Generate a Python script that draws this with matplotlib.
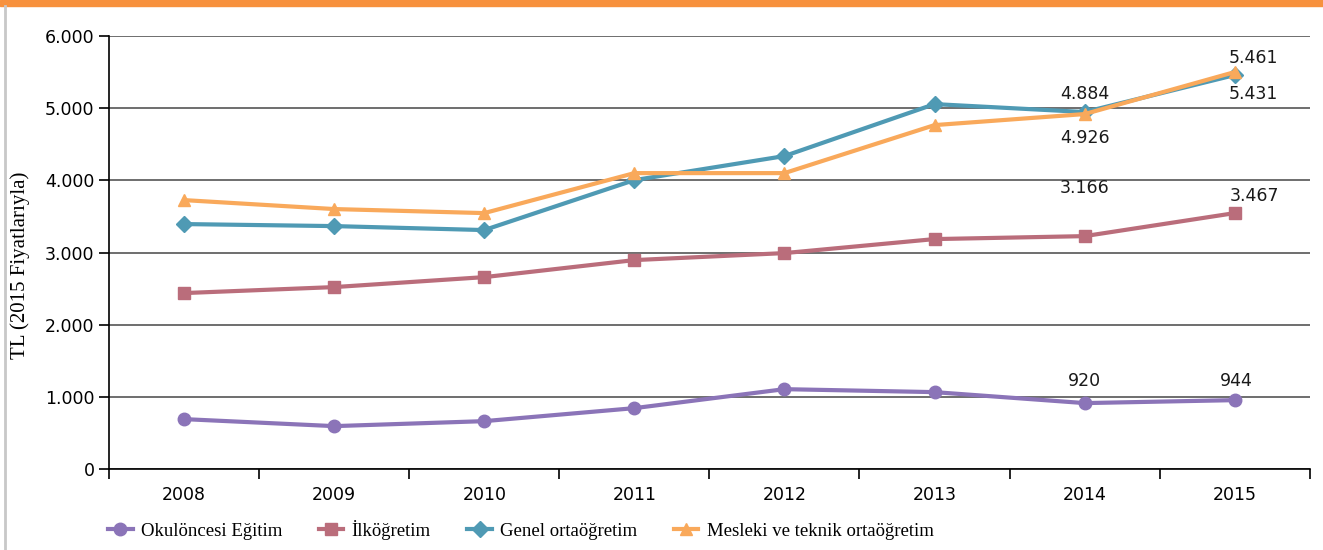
import numpy as np
import matplotlib
matplotlib.use('Agg')
import matplotlib.pyplot as plt
from matplotlib.lines import Line2D

# data
years = ['2008', '2009', '2010', '2011', '2012', '2013', '2014', '2015']
okuloncesi = [693, 596, 665, 845, 1108, 1067, 915, 956]
ilkogretim = [2439, 2522, 2660, 2896, 2993, 3187, 3228, 3547]
genel = [3395, 3367, 3312, 4004, 4337, 5057, 4947, 5459]
mesleki = [3727, 3603, 3547, 4101, 4101, 4766, 4919, 5501]

series_names = ['Okulöncesi Eğitim', 'İlköğretim', 'Genel ortaöğretim',
                'Mesleki ve teknik ortaöğretim']

# value labels: (series, year index, text, dx px, dy px)
labels = [
    (genel, 6, '4.884', 0, 18),
    (mesleki, 6, '4.926', 0, -24),
    (mesleki, 7, '5.461', 19, 14),
    (genel, 7, '5.431', 19, -19),
    (ilkogretim, 6, '3.166', 0, 48),
    (ilkogretim, 7, '3.467', 20, 17),
    (okuloncesi, 6, '920', 0, 22),
    (okuloncesi, 7, '944', 2, 19),
]

colors = ['#8B74B8', '#BA6D7B', '#4F9AB4', '#F9A95B']
markers = ['o', 's', 'D', '^']
msizes = [9, 9, 8, 9]

fig = plt.figure(figsize=(13.23, 5.5), dpi=100)
ax = fig.add_axes([0.0824, 0.147, 0.9076, 0.7875])

x = np.arange(len(years))
all_series = [okuloncesi, ilkogretim, genel, mesleki]
for vals, c, m, ms in zip(all_series, colors, markers, msizes):
    ax.plot(x, vals, color=c, marker=m, markersize=ms, linewidth=3, zorder=3)

for vals, i, txt, dx, dy in labels:
    ax.annotate(txt, xy=(x[i], vals[i]), xytext=(dx, dy),
                textcoords='offset pixels', ha='center', va='center',
                fontsize=12.5, color='#1a1a1a', zorder=4)

ax.set_xlim(-0.5, len(years) - 0.5)
ax.set_ylim(0, 6000)
ax.set_yticks(np.arange(0, 6001, 1000))
ax.set_yticklabels(['0', '1.000', '2.000', '3.000', '4.000', '5.000', '6.000'])
ax.set_xticks(x)
ax.set_xticklabels(years)
ax.set_xticks(np.arange(-0.5, len(years)), minor=True)
ax.tick_params(axis='x', which='major', length=0, pad=12, labelsize=12.5)
ax.tick_params(axis='x', which='minor', length=7, width=1.2, direction='out')
ax.tick_params(axis='y', length=7, width=1.2, direction='out', labelsize=12.5)

ax.grid(axis='y', color='#555555', linewidth=1.2, zorder=0)
ax.set_axisbelow(True)
for s in ['top', 'right']:
    ax.spines[s].set_visible(False)
ax.spines['left'].set_linewidth(1.2)
ax.spines['bottom'].set_linewidth(1.2)

ax.set_ylabel('TL (2015 Fiyatlarıyla)', fontfamily='Liberation Serif',
              fontsize=15)
ax.yaxis.set_label_coords(-0.066, 0.47)

handles = [Line2D([0], [0], color=c, marker=m, markersize=ms, linewidth=3)
           for c, m, ms in zip(colors, markers, msizes)]
fig.legend(handles, series_names, loc='center left', bbox_to_anchor=(0.069, 0.037),
           ncol=4, frameon=False, prop={'family': 'Liberation Serif', 'size': 13.5},
           handlelength=1.3, columnspacing=1.95, handletextpad=0.45)

# orange band on top and grey rule on the left
fig.add_artist(plt.Rectangle((0, 0.99), 1, 0.01, transform=fig.transFigure,
                             color='#F7913D'))
fig.add_artist(Line2D([0.004, 0.004], [0, 0.99], transform=fig.transFigure,
                      color='#c8c8c8', linewidth=2))

plt.savefig('out.png', dpi=100)
